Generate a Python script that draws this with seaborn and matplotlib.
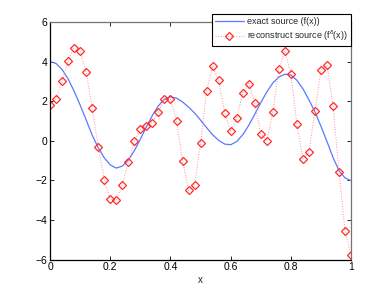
import numpy as np
import seaborn as sns
import matplotlib
matplotlib.use("Agg")
import matplotlib.pyplot as plt

# data
x_exact = np.round(np.arange(0, 1.0001, 0.02), 2)
f_exact = [4.00, 3.90, 3.60, 3.12, 2.50, 1.80, 1.05, 0.28, -0.35, -0.86,
           -1.22, -1.38, -1.28, -0.98, -0.50, 0.08, 0.70, 1.28, 1.77, 2.10,
           2.22, 2.15, 1.96, 1.70, 1.40, 1.04, 0.66, 0.30, 0.02, -0.17,
           -0.20, -0.04, 0.30, 0.78, 1.34, 1.92, 2.47, 2.92, 3.22, 3.36,
           3.32, 3.05, 2.62, 2.06, 1.45, 0.72, -0.05, -0.85, -1.52, -1.88,
           -2.02]

x_rec = np.round(np.arange(0, 1.0001, 0.02), 2)
f_rec = [1.79, 2.12, 3.01, 4.05, 4.69, 4.52, 3.45, 1.66, -0.31, -1.98,
         -2.94, -2.99, -2.22, -1.09, -0.02, 0.57, 0.75, 0.92, 1.45, 2.10,
         2.10, 0.98, -1.00, -2.50, -2.21, -0.10, 2.51, 3.77, 3.06, 1.41,
         0.49, 1.13, 2.42, 2.89, 1.89, 0.36, 0.00, 1.45, 3.60, 4.54,
         3.36, 0.84, -0.92, -0.58, 1.51, 3.57, 3.82, 1.75, -1.60, -4.58,
         -5.78]

xticks = [0, 0.2, 0.4, 0.6, 0.8, 1]
xticklabels = ["0", "0.2", "0.4", "0.6", "0.8", "1"]
yticks = [-6, -4, -2, 0, 2, 4, 6]

sns.set_theme(style="ticks")
plt.rcParams["font.family"] = ["Liberation Sans", "DejaVu Sans"]
plt.rcParams["mathtext.default"] = "regular"

fig = plt.figure(figsize=(3.88, 2.92), dpi=100)
ax = fig.add_axes([0.129, 0.111, 0.776, 0.814])

sns.lineplot(x=x_exact, y=f_exact, ax=ax, color="#5b78ff", linewidth=0.9,
             label="exact source (f(x))")
sns.lineplot(x=x_rec, y=f_rec, ax=ax, color="#ff3030", linewidth=0.7,
             linestyle=":", marker="D", markersize=4.4,
             markerfacecolor="none", markeredgecolor="#ff3030",
             markeredgewidth=0.9,
             label=r"reconstruct source (f$^{\delta}$(x))")
for ln in ax.lines[1:]:
    ln.set_color("#ff9090")
    ln.set_markeredgecolor("#ff2a2a")

ax.set_xlim(0, 1)
ax.set_ylim(-6, 6)
ax.set_xticks(xticks)
ax.set_xticklabels(xticklabels)
ax.set_yticks(yticks)
ax.set_xlabel("x", fontsize=7, labelpad=2)
ax.set_ylabel("")
ax.tick_params(direction="in", top=True, right=True, labelsize=7.5,
               length=3, width=0.6, pad=2, colors="black")
for side in ["left", "bottom"]:
    ax.spines[side].set_color("black")
    ax.spines[side].set_linewidth(0.9)
for side in ["top", "right"]:
    ax.spines[side].set_visible(True)
    ax.spines[side].set_color("0.45")
    ax.spines[side].set_linewidth(0.9)

leg = ax.legend(loc="upper right", bbox_to_anchor=(1.0, 1.035),
                fontsize=6.5, frameon=True, fancybox=False, framealpha=1,
                edgecolor="black", borderaxespad=0, handlelength=3.2,
                numpoints=1, borderpad=0.35, labelspacing=0.35,
                handletextpad=0.4)
leg.get_frame().set_linewidth(0.8)

fig.savefig("out.png", dpi=100)
